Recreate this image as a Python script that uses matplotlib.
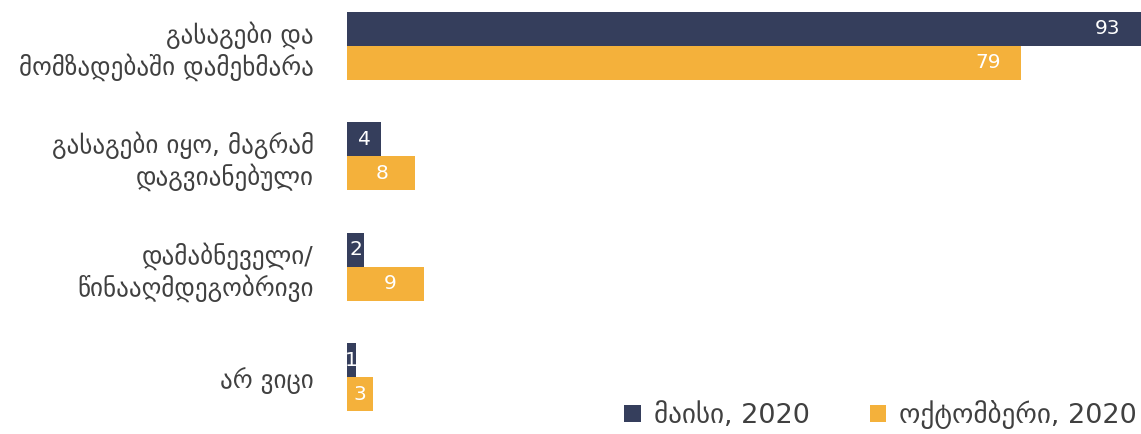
import matplotlib.pyplot as plt
import numpy as np

# categories (top to bottom) and survey shares
categories = ["გასაგები და\nმომზადებაში დამეხმარა",
              "გასაგები იყო, მაგრამ\nდაგვიანებული",
              "დამაბნეველი/\nწინააღმდეგობრივი",
              "არ ვიცი"]
may_2020 = [93, 4, 2, 1]
oct_2020 = [79, 8, 9, 3]
series_names = ["მაისი, 2020", "ოქტომბერი, 2020"]

navy = "#353e5c"
orange = "#f4b13b"
text_gray = "#404040"

plt.rcParams['font.family'] = ['DejaVu Sans']

fig = plt.figure(figsize=(11.41, 4.34), dpi=100)
# plot area: x 347..1141 px, y 12..411 px
ax = fig.add_axes([347 / 1141, 23 / 434, 794 / 1141, 399 / 434])

pos = np.arange(len(categories))
h = 0.308
b1 = ax.barh(pos - h / 2, may_2020, height=h, color=navy, label=series_names[0])
b2 = ax.barh(pos + h / 2, oct_2020, height=h, color=orange, label=series_names[1])

ax.set_xlim(0, 93)
ax.set_ylim(3 + h, -h)

# value labels, a bit inside the end of each bar (centred for short bars)
for vals, ys in [(may_2020, pos - h / 2), (oct_2020, pos + h / 2)]:
    for v, y in zip(vals, ys):
        x = max(v / 2, v - 3.9)
        ax.text(x, y, str(v), color="white", fontsize=14.5, ha="center", va="center")

ax.set_yticks(pos)
ax.set_yticklabels(categories, fontsize=18, color=text_gray, linespacing=1.2)
ax.tick_params(axis="y", length=0, pad=24)
ax.set_xticks([])
for s in ax.spines.values():
    s.set_visible(False)

fig.legend(handles=[b1, b2], loc="lower right", bbox_to_anchor=(1.018, -0.045),
           ncol=2, frameon=False, fontsize=19.5, handlelength=0.6, handleheight=0.6,
           handletextpad=0.5, columnspacing=2.2, labelcolor=text_gray)

fig.savefig("out.png", dpi=100)
